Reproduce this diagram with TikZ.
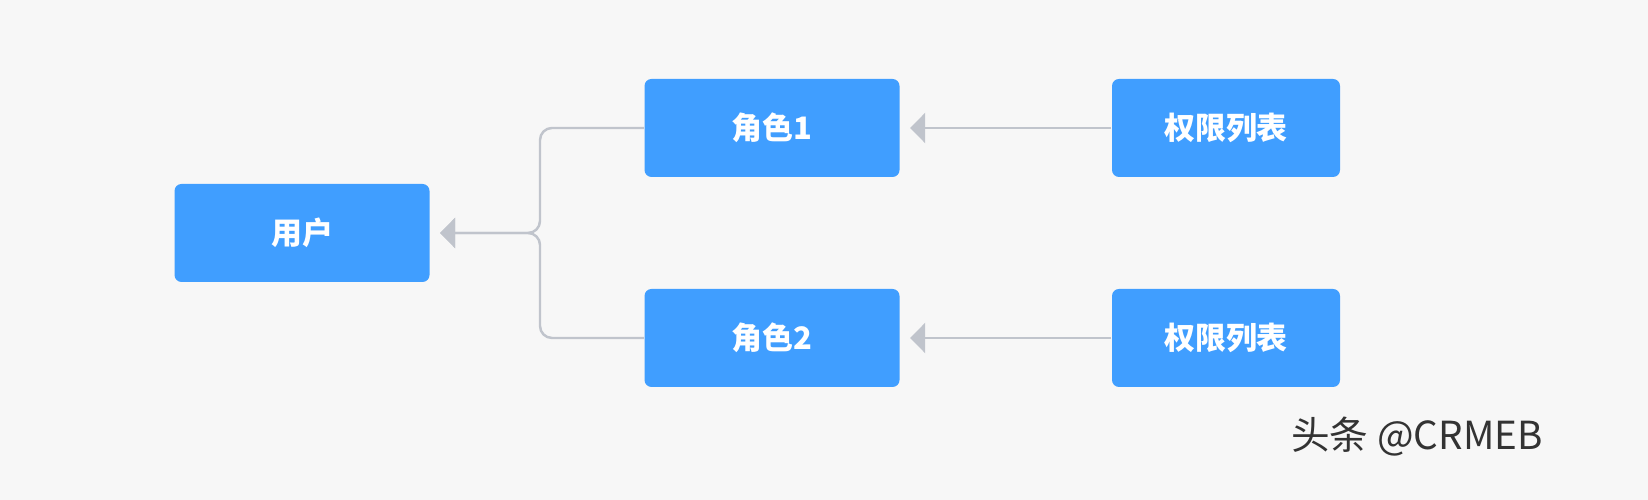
\documentclass[tikz,border=0pt]{standalone}
\usepackage{fontspec}
\setmainfont{Noto Sans CJK SC}
\usetikzlibrary{arrows.meta}
\definecolor{boxblue}{HTML}{409EFF}
\definecolor{linegray}{HTML}{C0C4CC}
\definecolor{bggray}{HTML}{F7F7F7}
\begin{document}
\begin{tikzpicture}[
 mybox/.style = {
        fill=boxblue, rounded corners=0.07cm, minimum height=0.98cm,
        text=white, font=\fontsize{8.8}{10}\selectfont\bfseries, inner sep=0pt},
 link/.style = {draw=linegray, line width=0.7pt, rounded corners=0.12cm},
 arrow/.style = {link, -{Triangle[length=0.15cm,width=0.3cm]}, shorten >=0.1cm}
                    ]
% background
\fill[bggray] (0,0) rectangle (16.48,5);
% the boxes
\node (user)  [mybox, minimum width=2.55cm] at (3.02,2.67) {用户};
\node (role1) [mybox, minimum width=2.55cm] at (7.72,3.72) {角色1};
\node (role2) [mybox, minimum width=2.55cm] at (7.72,1.62) {角色2};
\node (perm1) [mybox, minimum width=2.28cm] at (12.26,3.72) {权限列表};
\node (perm2) [mybox, minimum width=2.28cm] at (12.26,1.62) {权限列表};
% the links
\draw[arrow] (perm1) -- (role1);
\draw[arrow] (perm2) -- (role2);
\draw[arrow] (role1.west) -- (5.4,3.72) -- (5.4,2.67) -- (user.east);
\draw[arrow] (role2.west) -- (5.4,1.62) -- (5.4,2.67) -- (user.east);
% the watermark
\node (mark) [anchor=east, text=black!80, font=\fontsize{11}{13}\selectfont]
      at (15.55,0.63) {头条 @CRMEB};
\end{tikzpicture}
\end{document}
